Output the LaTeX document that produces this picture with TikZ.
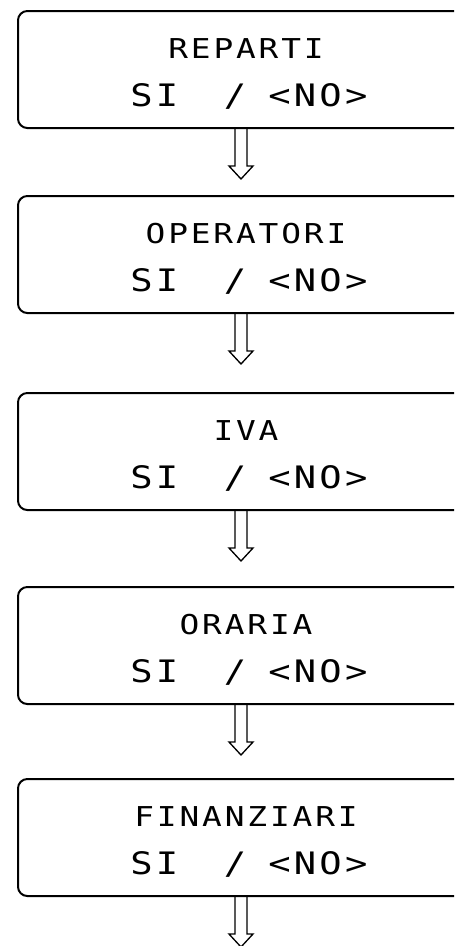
\documentclass[tikz,border=0pt]{standalone}
\usepackage{fontspec}
\newfontfamily\boxfont[FakeStretch=1.2,LetterSpace=10.5]{DejaVu Sans Mono}
\begin{document}
\begin{tikzpicture}[x=0.75pt,y=-0.75pt,
  stagebox/.style={draw,line width=1.5pt,rounded corners=7pt,minimum width=340.5pt,minimum height=87.75pt,inner sep=0pt,anchor=center},
  titletext/.style={inner sep=0pt,anchor=base,font=\boxfont\fontsize{20.5pt}{24pt}\selectfont},
  choicetext/.style={inner sep=0pt,anchor=base west,font=\boxfont\fontsize{23.2pt}{28pt}\selectfont},
  hollowarrow/.style={draw,line width=1pt,line join=miter}]
\useasboundingbox (0,0) rectangle (454,946);
\clip (0,0) rectangle (454,946);
\foreach \i/\top/\name in {1/11/REPARTI,2/196/OPERATORI,3/393/IVA,4/587/ORARIA,5/779/FINANZIARI}{
  \node[stagebox] (b\i) at (245,\top+58.5) {};
  \node[titletext] (t\i) at (246,\top+47) {\name};
  \node[choicetext] (c\i) at (130,\top+95) {SI\hspace{34.3pt}/\hspace{16.5pt}<NO>};
  \draw[hollowarrow] ([xshift=-7.5pt]b\i.south) -- ++(0,37) -- ++(-6,0) -- ++(12,13) -- ++(12,-13) -- ++(-6,0) -- ++(0,-37);
}
\end{tikzpicture}
\end{document}
